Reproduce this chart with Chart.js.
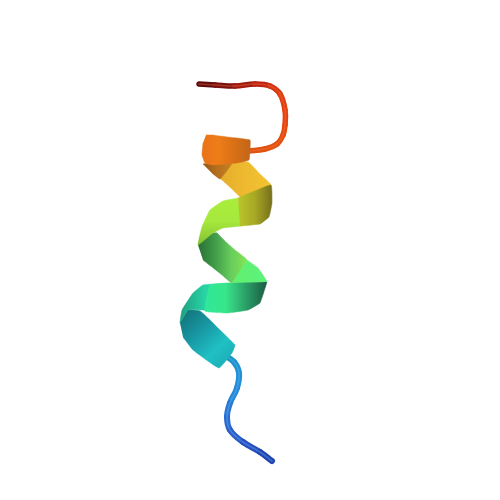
<!DOCTYPE html>
<html>
<head>
<meta charset="utf-8">
<style>html,body{margin:0;background:#fff}#wrap{width:500px;height:500px}</style>
<script src="https://cdn.jsdelivr.net/npm/chart.js@4"></script>
</head>
<body>
<div id="wrap"><canvas id="c"></canvas></div>
<script>
// tube traces
const redTube = [[199,84],[215,85],[235,86],[255,84],[270,86],[280,94],[285,110],[285,125],[283,135],[277,144],[265,149],[248,151]];
const redColors = ['#5e0c0e','#7a1010','#a01a10','#bd2410','#d3310f','#df3c0f','#e4430f','#e4480f','#e24c0f','#e0500f','#e0540f','#dc5510'];
const blueTube = [[224,355],[234,362],[239,373],[237,388],[230,403],[227,417],[230,430],[243,442],[260,452],[272,461]];
const blueColors = ['#1a96c4','#1f92d0','#2290d8','#2588d8','#2a78d4','#2b6ad0','#2a5cc8','#264ebc','#2244b0','#1f3ea8'];

// ribbon outlines
const yellowBand = [[203,164],[248,162],[260,174],[271,185],[242,198],[232,189],[222,180],[212,173]];
const brownPatch = [[203,164],[232,163],[220,179],[212,173]];
const orangeBand = [[206,135],[212,135],[227,137],[250,140],[250,150],[249,160],[237,163],[213,165],[205,163],[202,155],[203,143]];
const darkGreenBand = [[198,245],[205,238],[213,233],[217,233],[226,242],[235,250],[247,260],[232,283],[222,275],[212,267],[203,260]];
const lightGreenPatch = [[247,260],[258,268],[267,282],[232,283]];
const limeBand = [[238,198],[223,201],[210,210],[202,227],[198,245],[213,233],[223,228],[242,226]];
const oliveBand = [[238,198],[271,185],[272,203],[269,217],[260,224],[240,226]];
const tealTube = [[180,323],[188,310],[200,311],[210,320],[220,330],[235,345],[232,353],[219,368],[193,350],[183,337]];
const tealBandLeft = [[230,283],[203,285],[193,293],[182,310],[180,323],[188,310],[203,310],[208,311]];
const tealBandRight = [[267,282],[260,303],[248,310],[227,313],[205,311],[210,285],[230,283]];

const tubes = [
  { pts: redTube, colors: redColors, width: 5.5, shine: 'rgba(255,120,70,0.35)' },
  { pts: blueTube, colors: blueColors, width: 6, shine: 'rgba(110,190,255,0.35)' }
];
const bands = [
  { pts: yellowBand, dir: 'x', stops: ['#d9a02a', '#ecb62e', '#f3c432'] },
  { pts: brownPatch, dir: 'x', stops: ['#94591c', '#b56f1e', '#c7811f'] },
  { pts: orangeBand, dir: 'x', stops: ['#e8731a', '#ee7d18', '#d97016', '#c2661a'] },
  { pts: darkGreenBand, dir: 'x', stops: ['#2a6f35', '#3f9a48', '#66cc5c', '#86e454'] },
  { pts: lightGreenPatch, dir: 'x', stops: ['#62f070', '#5cf27a'] },
  { pts: limeBand, dir: 'y', stops: ['#a9ee3c', '#a6e83c', '#84c034'] },
  { pts: oliveBand, dir: 'x', stops: ['#b9c72a', '#a8a824', '#75701c'] },
  { pts: tealTube, dir: 'd', stops: ['#126f72', '#1794a0', '#20c0c4', '#1aa8b0'] },
  { pts: tealBandLeft, dir: 'x', stops: ['#1f9f80', '#28d3a4', '#2ddca0'] },
  { pts: tealBandRight, dir: 'x', stops: ['#2fe89a', '#38e68a', '#2a9e66', '#1a5a42'] }
];

function bandGradient(chart, band) {
  const xs = band.pts.map(p => chart.scales.x.getPixelForValue(p[0]));
  const ys = band.pts.map(p => chart.scales.y.getPixelForValue(p[1]));
  const x0 = Math.min(...xs), x1 = Math.max(...xs), y0 = Math.min(...ys), y1 = Math.max(...ys);
  // scales have no pixels yet on the first pass
  if (![x0, x1, y0, y1].every(Number.isFinite)) return band.stops[0];
  const g = band.dir === 'x' ? chart.ctx.createLinearGradient(x0, 0, x1, 0)
    : band.dir === 'y' ? chart.ctx.createLinearGradient(0, y0, 0, y1)
    : chart.ctx.createLinearGradient(x0, y0, x1, y1);
  band.stops.forEach((c, i) => g.addColorStop(i / (band.stops.length - 1), c));
  return g;
}

const toXY = pts => pts.map(p => ({ x: p[0], y: p[1] }));

const layers = [];
const tubeLayer = t => {
  layers.push({
    data: toXY(t.pts), tension: 0.4, fill: false, borderWidth: t.width, borderCapStyle: 'round',
    borderColor: t.colors[0],
    segment: { borderColor: ctx => t.colors[ctx.p0DataIndex] }
  });
  layers.push({
    data: toXY(t.pts), tension: 0.4, fill: false, borderWidth: 1.6, borderCapStyle: 'round', borderColor: t.shine
  });
};
const bandLayer = b => {
  layers.push({
    data: toXY(b.pts), tension: 0.1, fill: 'shape', borderWidth: 0.5,
    backgroundColor: ctx => bandGradient(ctx.chart, b),
    borderColor: ctx => bandGradient(ctx.chart, b)
  });
};

tubeLayer(tubes[0]);
bands.slice(0, 3).forEach(bandLayer);
bands.slice(3, 7).forEach(bandLayer);
tubeLayer(tubes[1]);
bands.slice(7).forEach(bandLayer);
layers.forEach((l, i) => { l.order = layers.length - i; l.pointRadius = 0; });

new Chart(document.getElementById('c'), {
  type: 'line',
  data: { datasets: layers },
  options: {
    responsive: true, maintainAspectRatio: false, animation: false,
    layout: { padding: 0 },
    plugins: { legend: { display: false }, tooltip: { enabled: false } },
    scales: {
      x: { type: 'linear', min: 0, max: 500, display: false },
      y: { type: 'linear', min: 0, max: 500, reverse: true, display: false }
    }
  }
});
</script>
</body>
</html>
